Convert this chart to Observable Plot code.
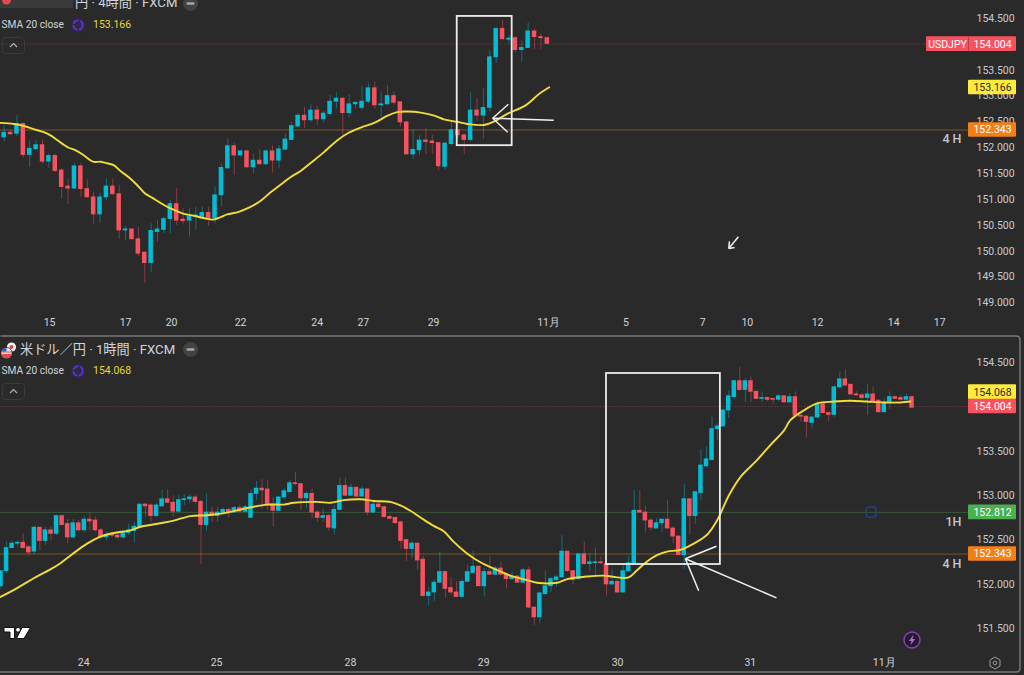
<!DOCTYPE html>
<html><head><meta charset="utf-8">
<script src="https://cdn.jsdelivr.net/npm/d3@7"></script>
<script src="https://cdn.jsdelivr.net/npm/@observablehq/plot@0.6"></script>
<style>
html,body{margin:0;padding:0;background:#2a2a2a;width:1024px;height:675px;overflow:hidden;font-family:Roboto,"Noto Sans CJK JP",sans-serif}
#wrap{position:relative;width:1024px;height:675px}
#top,#bot{position:absolute;left:0}
#top{top:0}#bot{top:335px}
svg{display:block}
.t{position:absolute;white-space:nowrap;color:#d1d4dc}
.box{position:absolute}
</style></head><body><div id="wrap"><div id="top"></div><div id="bot"></div></div>
<script>
const topOpen=[152.20,152.29,152.27,152.46,151.86,151.97,152.05,151.73,151.84,151.56,151.25,151.21,151.64,151.20,151.04,150.71,151.04,151.25,151.10,150.40,150.42,150.23,149.97,149.77,150.37,150.41,150.62,150.91,150.61,150.59,150.66,150.66,150.74,150.63,151.08,151.60,152.03,151.85,151.93,151.62,151.75,151.68,151.93,151.75,151.96,152.15,152.41,152.62,152.53,152.72,152.55,152.65,152.89,152.95,152.67,152.84,152.77,152.89,153.15,152.82,152.84,153.00,152.88,152.49,151.87,151.95,152.14,152.12,152.09,151.63,152.07,152.34,152.24,152.15,152.72,152.62,152.77,153.75,154.30,154.09,154.12,153.89,153.93,154.25,154.14,154.12];
const topHigh=[152.43,152.33,152.62,152.48,152.13,152.15,152.15,151.88,151.87,151.59,151.40,151.69,151.69,151.38,151.14,151.12,151.40,151.40,151.27,150.48,150.43,150.46,149.98,150.53,150.59,150.66,150.98,151.21,150.82,150.82,150.85,150.85,150.85,151.24,151.69,152.17,152.09,151.95,151.95,151.87,151.96,151.96,152.04,152.04,152.27,152.49,152.66,152.78,152.83,152.80,152.70,153.01,153.06,152.96,153.03,152.88,153.18,153.24,153.27,153.08,153.20,153.09,152.88,152.51,152.35,152.24,152.37,152.24,152.10,152.11,152.53,152.53,152.25,153.06,152.95,153.14,153.88,154.30,154.46,154.17,154.15,154.06,154.41,154.30,154.20,154.14];
const topLow=[152.11,152.24,152.22,151.80,151.62,151.95,151.68,151.60,151.52,151.01,150.90,151.20,151.04,151.03,150.52,150.54,150.98,151.08,150.23,150.21,150.22,149.90,149.37,149.59,150.18,150.34,150.34,150.50,150.52,150.27,150.41,150.66,150.48,150.53,150.86,151.59,151.46,151.82,151.61,151.50,151.66,151.66,151.51,151.60,151.95,152.13,152.37,152.37,152.49,152.43,152.48,152.62,152.75,152.24,152.59,152.75,152.72,152.85,152.75,152.58,152.82,152.82,152.40,151.87,151.77,151.85,151.87,151.88,151.55,151.57,152.04,152.17,151.87,152.11,152.51,152.17,152.69,153.64,154.07,154.01,153.83,153.66,153.93,153.90,153.90,153.99];
const topClose=[152.29,152.26,152.46,151.86,151.98,152.05,151.73,151.84,151.55,151.24,151.21,151.64,151.20,151.04,150.71,151.04,151.25,151.10,150.40,150.42,150.23,149.95,149.77,150.39,150.42,150.62,150.91,150.59,150.58,150.67,150.69,150.74,150.63,151.08,151.61,152.03,151.85,151.93,151.62,151.75,151.68,151.93,151.75,151.97,152.16,152.42,152.62,152.53,152.72,152.55,152.66,152.89,152.95,152.67,152.84,152.87,152.89,153.15,152.82,152.84,153.00,152.87,152.49,151.87,151.96,152.14,152.11,152.09,151.64,152.08,152.34,152.24,152.15,152.72,152.62,152.77,153.75,154.30,154.10,154.11,153.89,153.93,154.25,154.14,154.12,154.01];
const topSmaIdx=[-0.6,1.5,3.1,4.6,6.2,7.25,8.3,9.3,10.1,11.2,12.5,13.9,15.1,16.1,17.2,18.2,19.5,20.8,22,23.2,24.5,25.8,27.1,28.1,29.9,31.2,32.8,33.9,34.9,36.7,38.3,40.1,41.7,43,44.8,46.4,47.9,50,52.1,53.9,55.8,57.9,60,61.5,63.1,65.2,67.3,68.8,70.9,72.5,75.1,76.7,78.8,81.6,83.7,85.3];
const topSma=[152.48,152.46,152.42,152.36,152.30,152.24,152.15,152.06,152.00,151.95,151.85,151.73,151.73,151.70,151.66,151.55,151.43,151.28,151.12,151.03,150.93,150.84,150.77,150.72,150.68,150.64,150.61,150.66,150.71,150.76,150.84,150.97,151.14,151.26,151.43,151.55,151.70,151.91,152.14,152.29,152.39,152.48,152.62,152.69,152.70,152.68,152.62,152.55,152.50,152.46,152.44,152.51,152.66,152.82,153.04,153.17];
const topTickIdx=[7.1,19,26.2,37,49,56.2,67.2,85.2,97.3,109.3,116.3,127.3,139.2,146.4];
const topTickText=["15","17","20","22","24","27","29","11月","5","7","10","12","14","17"];
const topPriceTicks=[154.5,153.5,153,152.5,152,151.5,151,150.5,150,149.5,149];

const botOpen=[151.98,152.15,152.41,152.46,152.47,152.42,152.37,152.64,152.49,152.61,152.57,152.77,152.68,152.53,152.69,152.61,152.73,152.72,152.61,152.53,152.57,152.55,152.53,152.58,152.60,152.64,152.90,152.89,152.77,152.88,152.96,152.92,152.82,152.95,152.96,152.98,152.93,152.67,152.81,152.77,152.81,152.84,152.81,152.86,152.82,152.75,153.02,153.08,153.07,152.90,152.83,152.98,153.04,153.14,153.13,152.97,153.02,152.81,152.75,152.77,152.63,152.84,153.11,153.00,153.09,152.99,153.07,152.81,152.90,152.87,152.76,152.75,152.70,152.50,152.40,152.46,152.28,151.87,151.91,152.02,152.14,151.96,151.91,151.86,152.03,152.13,152.20,151.98,152.14,152.11,152.18,152.11,152.06,152.09,152.02,152.16,151.74,151.63,151.89,151.98,152.05,152.08,152.37,152.15,152.06,152.34,152.23,152.24,152.25,152.23,152.00,152.03,151.91,152.15,152.23,152.83,152.81,152.72,152.63,152.69,152.73,152.63,152.54,152.33,152.96,152.77,153.03,153.33,153.40,153.75,153.78,153.96,154.11,154.29,154.19,154.29,154.17,154.09,154.10,154.09,154.08,154.12,154.05,154.11,153.90,153.89,153.82,153.88,154.03,153.93,153.91,154.22,154.31,154.25,154.14,154.13,154.10,154.14,154.07,153.94,154.05,154.11,154.10,154.08,154.11];
const botHigh=[152.15,152.48,152.49,152.49,152.57,152.44,152.65,152.64,152.64,152.65,152.78,152.78,152.73,152.73,152.72,152.76,152.80,152.76,152.63,152.59,152.59,152.59,152.60,152.68,152.70,152.90,152.91,152.91,152.91,153.06,153.07,153.00,153.00,153.01,153.01,153.00,152.95,153.02,152.87,152.87,152.86,152.86,152.88,152.89,152.89,153.06,153.16,153.18,153.17,152.98,152.99,153.08,153.17,153.26,153.13,153.04,153.08,152.83,152.85,152.79,152.89,153.20,153.20,153.13,153.10,153.10,153.08,152.95,152.92,152.88,152.78,152.76,152.71,152.50,152.48,152.47,152.32,151.97,152.05,152.36,152.15,152.08,152.03,152.05,152.22,152.37,152.21,152.18,152.31,152.20,152.25,152.12,152.14,152.10,152.18,152.20,151.74,151.91,152.15,152.08,152.10,152.55,152.37,152.16,152.35,152.48,152.35,152.41,152.31,152.27,152.17,152.05,152.21,152.32,153.06,153.06,152.88,152.74,152.74,152.74,152.95,152.65,152.55,153.13,152.96,153.04,153.52,153.55,153.89,153.81,153.97,154.18,154.30,154.45,154.32,154.34,154.18,154.17,154.11,154.09,154.14,154.12,154.15,154.17,153.91,153.90,153.89,154.06,154.04,153.94,154.24,154.39,154.42,154.25,154.17,154.15,154.25,154.22,154.08,154.09,154.17,154.12,154.13,154.14,154.12];
const botLow=[151.95,152.12,152.40,152.42,152.40,152.33,152.34,152.38,152.44,152.49,152.55,152.66,152.46,152.51,152.59,152.59,152.61,152.59,152.51,152.49,152.53,152.51,152.51,152.55,152.47,152.63,152.76,152.70,152.76,152.87,152.91,152.76,152.81,152.89,152.91,152.91,152.22,152.60,152.70,152.70,152.78,152.75,152.80,152.81,152.81,152.75,152.95,152.85,152.83,152.65,152.82,152.96,153.03,153.11,152.83,152.85,152.74,152.70,152.70,152.60,152.56,152.83,152.99,152.99,152.98,152.98,152.77,152.80,152.85,152.75,152.73,152.68,152.40,152.26,152.29,152.16,151.86,151.76,151.81,152.01,151.85,151.88,151.85,151.85,152.03,152.12,151.98,151.86,152.10,152.10,152.10,151.95,152.05,152.02,152.02,151.73,151.54,151.56,151.89,151.91,151.97,152.07,152.14,152.00,152.05,152.22,152.15,152.10,152.22,151.87,151.99,151.90,151.90,152.14,152.23,152.81,152.58,152.60,152.63,152.59,152.63,152.46,152.33,152.17,152.56,152.68,152.94,153.32,153.40,153.62,153.77,153.87,154.08,154.18,154.05,154.05,154.08,154.05,154.06,154.03,154.06,154.05,154.05,153.89,153.83,153.65,153.75,153.87,153.92,153.83,153.88,154.21,154.24,154.13,154.12,154.08,153.90,154.05,153.93,153.93,153.97,154.09,154.07,154.07,153.99];
const botClose=[152.15,152.41,152.46,152.47,152.41,152.36,152.64,152.49,152.61,152.57,152.77,152.67,152.53,152.69,152.61,152.73,152.71,152.61,152.53,152.56,152.55,152.53,152.58,152.61,152.65,152.90,152.88,152.77,152.89,152.96,152.92,152.82,152.95,152.96,152.98,152.93,152.67,152.81,152.77,152.81,152.84,152.81,152.86,152.82,152.87,153.02,153.08,153.06,152.89,152.83,152.98,153.05,153.14,153.13,152.97,153.02,152.81,152.75,152.77,152.64,152.84,153.11,153.00,153.09,152.99,153.07,152.81,152.90,152.87,152.76,152.74,152.69,152.49,152.40,152.46,152.27,151.87,151.91,152.02,152.14,151.95,151.91,151.86,152.03,152.14,152.20,151.98,152.14,152.11,152.18,152.11,152.06,152.09,152.02,152.16,151.74,151.63,151.90,151.98,152.06,152.08,152.37,152.15,152.05,152.34,152.23,152.25,152.25,152.24,152.00,152.03,151.91,152.15,152.24,152.83,152.81,152.72,152.64,152.69,152.73,152.63,152.54,152.33,152.96,152.77,153.04,153.34,153.41,153.75,153.78,153.96,154.12,154.29,154.19,154.29,154.17,154.09,154.10,154.08,154.08,154.12,154.05,154.11,153.90,153.89,153.83,153.88,154.03,153.93,153.91,154.22,154.31,154.24,154.14,154.13,154.10,154.14,154.06,153.94,154.05,154.11,154.09,154.08,154.11,153.99];
const botSmaIdx=[-0.1,2.9,5.9,8.9,10.7,12.8,15.5,17.9,20.3,23.3,25.1,28.7,31.1,34.1,37.1,40.7,44.3,47.9,50.9,52.7,56.9,59.3,61.7,64.7,67.1,70.1,71.9,73.7,76.1,77.9,79.7,81.5,83.9,86.3,88.7,91.7,94.7,96.5,100.1,101.9,105.5,108.5,110.9,113,114.5,116.3,118.1,119.9,122.3,124.7,127.1,128.9,131,133.1,136.1,138.5,140.9,142.1,144.5,146.9,149.9,152.9,155.9,158.9,161.9,163.7];
const botSma=[151.86,151.96,152.07,152.17,152.24,152.34,152.46,152.54,152.58,152.61,152.65,152.69,152.72,152.77,152.78,152.81,152.86,152.90,152.90,152.92,152.93,152.92,152.95,152.96,152.94,152.93,152.89,152.83,152.73,152.66,152.60,152.48,152.35,152.25,152.18,152.10,152.05,152.02,152.02,152.06,152.09,152.10,152.08,152.08,152.16,152.26,152.33,152.37,152.39,152.46,152.56,152.72,153.00,153.21,153.40,153.57,153.73,153.85,153.96,154.04,154.06,154.07,154.06,154.05,154.05,154.06];
const botTickIdx=[14.9,38.8,62.9,86.9,111,134.9,159];
const botTickText=["24","25","28","29","30","31","11月"];
const botPriceTicks=[154.5,153.5,153,152.5,152,151.5];

const UP="#00bcd4",DOWN="#f7525f";
const tagFont="Roboto, sans-serif";

function pane({o,h,l,c,smaIdx,sma,tickIdx,tickText,priceTicks,height,plotH,pxPerUnit,topPrice,x0,dx,lines,tags,white,notes}){
  const xAt=px=>(px-x0)/dx;            // pixel helper for the price scale's tags
  const yPad=pxs=>pxs/pxPerUnit;
  const rows=o.map((v,i)=>({i,o:v,h:h[i],l:l[i],c:c[i]}));
  const smaRows=smaIdx.map((v,i)=>({i:v,v:sma[i]}));
  const hw=2.25/dx;
  const col=d=>d.c>=d.o?UP:DOWN;
  return Plot.plot({
    width:1024,height,margin:0,marginTop:0,marginRight:0,marginBottom:height-plotH,marginLeft:0,
    style:{background:"transparent",fontFamily:"Roboto, sans-serif",overflow:"visible"},
    x:{domain:[xAt(0),xAt(1024)],range:[0,1024]},
    y:{domain:[topPrice-plotH/pxPerUnit,topPrice],range:[plotH,0]},
    marks:[
      ...lines.map(L=>Plot.ruleY([L.p],{x1:xAt(0),x2:xAt(968),stroke:L.c,strokeWidth:1,strokeDasharray:L.dash||null})),
      Plot.ruleX(rows,{x:"i",y1:"l",y2:"h",stroke:col,strokeOpacity:0.45,strokeWidth:1}),
      Plot.rect(rows,{x1:d=>d.i-hw,x2:d=>d.i+hw,y1:"o",y2:"c",fill:col,insetTop:-0.4,insetBottom:-0.4}),
      Plot.line(smaRows,{x:"i",y:"v",stroke:"#f2dd38",strokeWidth:1.9,curve:"catmull-rom"}),
      Plot.axisY({anchor:"left",ticks:priceTicks,tickSize:0,tickPadding:0,label:null,tickFormat:d3.format(".3f"),
        fontSize:10.5,fill:"#c8cad0",dx:976,textAnchor:"start"}),
      Plot.axisX({ticks:tickIdx,tickFormat:(d,i)=>tickText[i],tickSize:0,tickPadding:5,label:null,fontSize:10.5,fill:"#d1d4dc"}),
      ...tags.flatMap(T=>{
        const at=T.at??T.p;
        return [
          Plot.rect([T],{x1:xAt(T.sym?926:968),x2:xAt(1016),y1:at-yPad(7.3),y2:at+yPad(7.3),fill:T.bg,rx:1}),
          ...(T.sym?[
            Plot.ruleX([xAt(968)],{y1:at-yPad(7.3),y2:at+yPad(7.3),stroke:"#b93c47"}),
            Plot.text([T],{x:xAt(947),y:at,text:"sym",fill:T.fg,fontSize:10.5,fontFamily:tagFont})
          ]:[]),
          Plot.text([T],{x:xAt(992),y:at,text:d=>d.p.toFixed(3),fill:T.fg,fontSize:10.5,fontFamily:tagFont})
        ];
      }),
      ...(white.rect?[Plot.rect([white.rect],{x1:"x1",x2:"x2",y1:"y1",y2:"y2",stroke:"#ececec",strokeWidth:1.8,fill:"none"})]:[]),
      ...white.segs.map(s=>Plot.link([s],{x1:"x1",y1:"y1",x2:"x2",y2:"y2",stroke:"#f2f2f2",strokeWidth:s.w||1.5})),
      ...notes.map(n=>Plot.text([n],{x:xAt(n.px),y:"p",text:"t",fill:"#c4c6cc",fontSize:12.5,fontWeight:500,textAnchor:"end"}))
    ]
  });
}

document.getElementById("top").append(pane({
  o:topOpen,h:topHigh,l:topLow,c:topClose,smaIdx:topSmaIdx,sma:topSma,
  tickIdx:topTickIdx,tickText:topTickText,priceTicks:topPriceTicks,
  height:335,plotH:313,pxPerUnit:51.7,topPrice:154.848,x0:3.67,dx:6.39,
  lines:[{p:154.004,c:"#64393f",dash:"1.5 1.5"},{p:152.343,c:"#7d5426"}],
  tags:[{p:154.004,bg:DOWN,fg:"#fff",sym:"USDJPY"},{p:153.166,bg:"#ffeb3b",fg:"#2a2a2a"},{p:152.343,bg:"#f57f17",fg:"#fff"}],
  white:{rect:{x1:70.9,x2:79.5,y1:152.04,y2:154.54},segs:[
    {x1:86.0,y1:152.53,x2:76.45,y2:152.57},{x1:78.9,y1:152.84,x2:76.45,y2:152.57},{x1:78.8,y1:152.30,x2:76.45,y2:152.57},
    {x1:114.9,y1:150.28,x2:113.4,y2:150.05},{x1:113.5,y1:150.19,x2:113.4,y2:150.05},{x1:114.3,y1:150.07,x2:113.4,y2:150.05}]},
  notes:[{t:"4 H",px:961,p:152.16}]
}));
document.getElementById("bot").append(pane({
  o:botOpen,h:botHigh,l:botLow,c:botClose,smaIdx:botSmaIdx,sma:botSma,
  tickIdx:botTickIdx,tickText:botTickText,priceTicks:botPriceTicks,
  height:335,plotH:318,pxPerUnit:88.8,topPrice:154.804,x0:0.5,dx:5.555,
  lines:[{p:154.004,c:"#64393f",dash:"1.5 1.5"},{p:152.812,c:"#38583a"},{p:152.343,c:"#7d5426"}],
  tags:[{p:154.068,at:154.166,bg:"#ffeb3b",fg:"#2a2a2a"},{p:154.004,bg:DOWN,fg:"#fff"},{p:152.812,bg:"#4caf50",fg:"#fff"},{p:152.343,bg:"#f57f17",fg:"#fff"}],
  white:{rect:{x1:109,x2:129.5,y1:152.225,y2:154.376},segs:[
    {x1:139.6,y1:151.85,x2:123.2,y2:152.29},{x1:125.6,y1:151.93,x2:123.2,y2:152.29},{x1:128.8,y1:152.43,x2:123.2,y2:152.29}]},
  notes:[{t:"1H",px:961,p:152.70},{t:"4 H",px:961,p:152.23}]
}));

// chrome: pane headers and terminal icons
const wrap=document.getElementById("wrap");
function label(txt,x,y,size,color,extra){const d=document.createElement("div");d.className="t";d.textContent=txt;
  d.style.cssText=`left:${x}px;top:${y}px;font-size:${size}px;line-height:14px;color:${color};${extra||""}`;wrap.append(d);return d;}
function icon(svg,x,y,w,h){const d=document.createElement("div");d.className="box";d.style.cssText=`left:${x}px;top:${y}px;width:${w}px;height:${h}px`;
  d.innerHTML=`<svg width="${w}" height="${h}" viewBox="0 0 ${w} ${h}">${svg}</svg>`;wrap.append(d);}

// pane frame
icon(`<path d="M0.5 336 H1016 Q1020 336 1020 340 V668 Q1020 672 1016 672 H0" fill="none" stroke="#777" stroke-width="1.5"/>`,0,0,1024,675);
// headers
label("円 · 4時間 · FXCM",75,-4,13.2,"#d1d4dc");
icon(`<rect x="0" y="0" width="73" height="8" fill="#3a3a3a"/><path d="M2 0 A4.5 4.5 0 0 0 11 0 Z" fill="#e5484d"/>`,0,0,73,8);
label("SMA 20 close",1.5,18,10.2,"#d1d4dc");
label("153.166",93,18,10.5,"#e8d63a");
label("米ドル／円 · 1時間 · FXCM",20,343,13.2,"#d1d4dc");
label("SMA 20 close",1.5,364,10.2,"#d1d4dc");
label("154.068",93,364,10.5,"#e8d63a");
const ind=`<circle cx="8" cy="8" r="7.5" fill="#2f2a42"/><circle cx="8" cy="8" r="4.7" fill="none" stroke="#5c30e0" stroke-width="1.8" stroke-dasharray="6.5 1.4"/>`;
icon(ind,70,17,16,16);icon(ind,70,363,16,16);
const minus=`<circle cx="7.5" cy="7.5" r="7.5" fill="#424242"/><rect x="3.5" y="6.3" width="8" height="2.4" rx="1" fill="#a6a6a6"/>`;
icon(minus,182.5,-4.5,15,15);icon(minus,182.5,341.5,15,15);
const chev=`<rect x="0.5" y="0.5" width="22" height="16" rx="3" fill="none" stroke="#3b3b3b"/><path d="M8 10 L11.5 6.5 L15 10" fill="none" stroke="#b0b0b0" stroke-width="1.2"/>`;
icon(chev,2,37,24,17);icon(chev,2,383,24,17);
icon(`<circle cx="11.5" cy="6" r="4.6" fill="#f2f2f2"/><circle cx="11.5" cy="6" r="2" fill="#e5484d"/><circle cx="6.5" cy="12" r="5.6" fill="#e8e8e8" stroke="#2a2a2a" stroke-width="0.8"/><path d="M1.2 13 H11.8 A5.4 5.4 0 0 1 1.2 13Z M1.4 10.5 H11.6 V11.5 H1.4Z" fill="#e5484d"/><path d="M1.5 10.5 A5.5 5.5 0 0 1 6.5 6.7 V10.5Z" fill="#2f5fb3"/>`,0,341,17,18);
icon(`<g stroke="#111" stroke-width="1" fill="#fff"><path d="M1 1.5H11.5V12.5H7V6H1Z"/><circle cx="15" cy="3.8" r="2.4"/><path d="M19 1.5H27.5L21 12.5H13.5Z"/></g>`,3,626,29,14);
icon(`<circle cx="9" cy="9" r="8" fill="#221d2c" stroke="#8e3fb8" stroke-width="1.4"/><path d="M10.8 3.6 L5.8 10 H8.6 L7.2 14.4 L12.2 8 H9.4 Z" fill="#b46ad8"/>`,903,631,18,18);
icon(`<rect x="1" y="1" width="10" height="10" rx="2.5" fill="none" stroke="#21409a" stroke-width="1.4"/>`,865,506,12,12);
icon(`<path d="M6 1 L11 4 V10 L6 13 L1 10 V4 Z" fill="none" stroke="#9a9a9a"/><circle cx="6" cy="7" r="1.8" fill="none" stroke="#9a9a9a"/>`,989,656,12,14);
</script></body></html>
